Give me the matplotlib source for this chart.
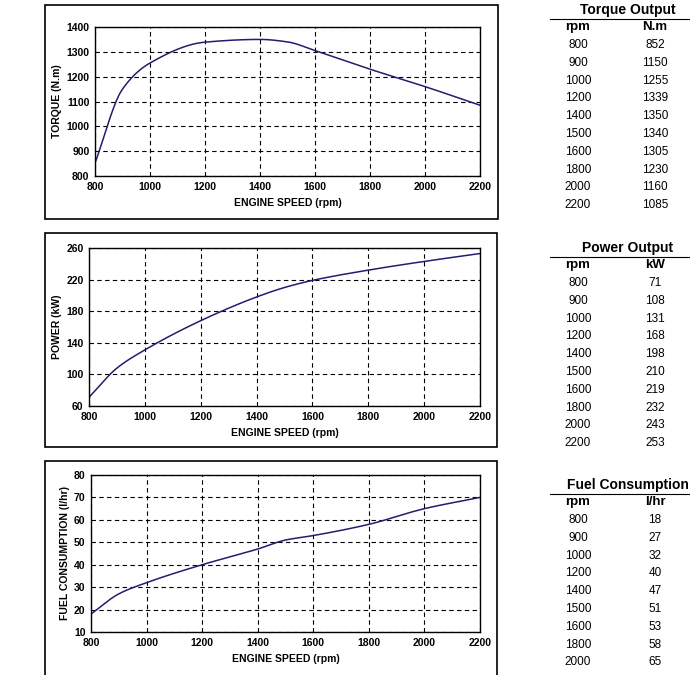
import matplotlib.pyplot as plt
import numpy as np
from matplotlib.patches import Rectangle

W, H = 690, 675

rpm = [800, 900, 1000, 1200, 1400, 1500, 1600, 1800, 2000, 2200]
torque = [852, 1150, 1255, 1339, 1350, 1340, 1305, 1230, 1160, 1085]
power = [71, 108, 131, 168, 198, 210, 219, 232, 243, 253]
fuel = [18, 27, 32, 40, 47, 51, 53, 58, 65, 70]

panels = [
    # (box px, axes px, ylabel, ylim, yticks, values, table title, unit, table y)
    ((45, 5, 498, 219), (95, 27, 480, 176), "TORQUE (N.m)", (800, 1400), range(800, 1401, 100),
     torque, "Torque Output", "N.m", 10),
    ((45, 233, 497, 447), (89, 248, 480, 406), "POWER (kW)", (60, 260), range(60, 261, 40),
     power, "Power Output", "kW", 248),
    ((45, 461, 497, 690), (91, 475, 480, 632), "FUEL CONSUMPTION (l/hr)", (10, 80), range(10, 81, 10),
     fuel, "Fuel Consumption", "l/hr", 485),
]


def pchip(x, y, xs):
    # monotone cubic through the table points, like the smooth curve of the original
    x = np.asarray(x, float)
    y = np.asarray(y, float)
    h = np.diff(x)
    d = np.diff(y) / h
    m = np.zeros_like(y)
    for k in range(1, len(x) - 1):
        if d[k - 1] * d[k] > 0:
            w1 = 2 * h[k] + h[k - 1]
            w2 = h[k] + 2 * h[k - 1]
            m[k] = (w1 + w2) / (w1 / d[k - 1] + w2 / d[k])
    m[0] = d[0]
    m[-1] = d[-1]
    idx = np.clip(np.searchsorted(x, xs) - 1, 0, len(x) - 2)
    t = (xs - x[idx]) / h[idx]
    h00 = 2 * t**3 - 3 * t**2 + 1
    h10 = t**3 - 2 * t**2 + t
    h01 = -2 * t**3 + 3 * t**2
    h11 = t**3 - t**2
    return h00 * y[idx] + h10 * h[idx] * m[idx] + h01 * y[idx + 1] + h11 * h[idx] * m[idx + 1]


def fx(x):
    return x / W


def fy(y):
    return 1 - y / H


fig = plt.figure(figsize=(W / 100, H / 100), dpi=100)
plt.rcParams['font.family'] = ['Liberation Sans', 'DejaVu Sans']
xs = np.linspace(800, 2200, 400)

for box, ax_px, ylabel, ylim, yticks, vals, title, unit, ty in panels:
    x0, y0, x1, y1 = box
    fig.patches.append(Rectangle((fx(x0), fy(y1)), fx(x1 - x0), (y1 - y0) / H,
                                 transform=fig.transFigure, fill=False, lw=1.2, ec='black'))
    a0, b0, a1, b1 = ax_px
    ax = fig.add_axes([fx(a0), fy(b1), fx(a1 - a0), (b1 - b0) / H])
    ax.plot(xs, pchip(rpm, vals, xs), color='#1f1f6e', lw=1.1)
    ax.set_xlim(800, 2200)
    ax.set_ylim(*ylim)
    ax.set_xticks(range(800, 2201, 200))
    ax.set_yticks(list(yticks))
    ax.grid(True, ls=(0, (4, 3)), color='black', lw=0.8)
    ax.tick_params(labelsize=7.5, length=0, pad=4)
    for lab in ax.get_xticklabels() + ax.get_yticklabels():
        lab.set_fontweight('bold')
    ax.set_xlabel("ENGINE SPEED (rpm)", fontsize=7.5, fontweight='bold', labelpad=5)
    ax.set_ylabel(ylabel, fontsize=7.5, fontweight='bold', labelpad=3)
    for s in ax.spines.values():
        s.set_linewidth(1.0)

    # table on the right
    fig.text(fx(628), fy(ty), title, fontsize=10, fontweight='bold', ha='center', va='center')
    fig.add_artist(plt.Line2D([fx(550), fx(690)], [fy(ty + 9)] * 2, color='black', lw=0.8))
    fig.text(fx(578), fy(ty + 17), "rpm", fontsize=9.5, fontweight='bold', ha='center', va='center')
    fig.text(fx(655), fy(ty + 17), unit, fontsize=9.5, fontweight='bold', ha='center', va='center')
    for i, (r, v) in enumerate(zip(rpm, vals)):
        if unit == "l/hr" and r == 2200:
            continue
        yy = ty + 35 + i * 17.8
        fig.text(fx(578), fy(yy), str(r), fontsize=8.5, ha='center', va='center')
        fig.text(fx(655), fy(yy), str(v), fontsize=8.5, ha='center', va='center')

fig.savefig("out.png", dpi=100)
